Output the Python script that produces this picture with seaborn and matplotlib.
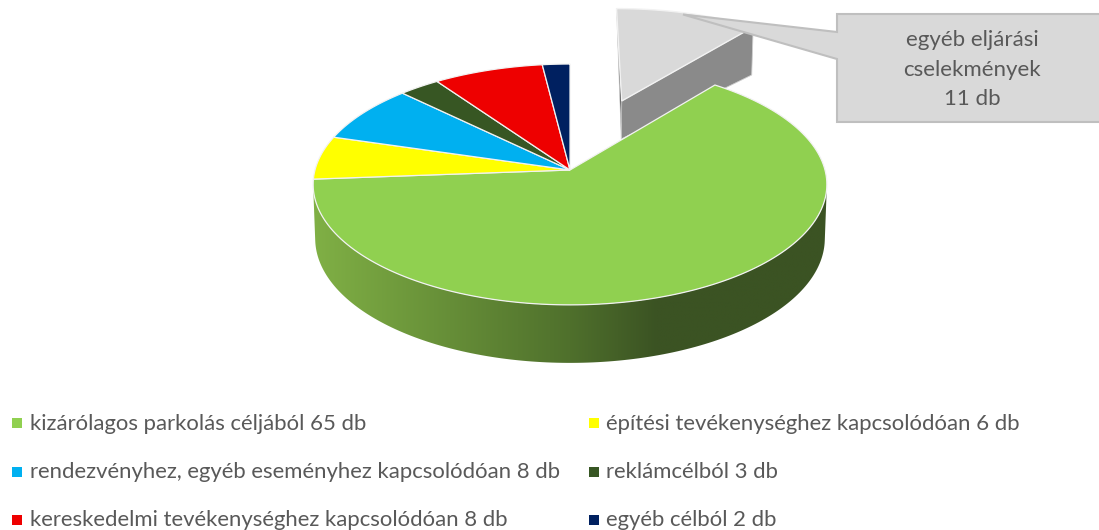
import numpy as np
import matplotlib
matplotlib.use("Agg")
import matplotlib.pyplot as plt
from matplotlib.colors import LinearSegmentedColormap
from matplotlib.patches import Polygon
import seaborn as sns

categories = ["kizárólagos parkolás céljából", "építési tevékenységhez kapcsolódóan",
              "rendezvényhez, egyéb eseményhez kapcsolódóan", "reklámcélból",
              "kereskedelmi tevékenységhez kapcsolódóan", "egyéb célból",
              "egyéb eljárási cselekmények"]
values = [65, 6, 8, 3, 8, 2, 11]
unit = "db"
hex_colors = ["#90d050", "#ffff00", "#00b0f0", "#375623", "#ee0000", "#002060", "#d9d9d9"]

sns.set_theme(style="white")
plt.rcParams["font.family"] = ["Lato", "DejaVu Sans"]
palette = sns.color_palette(hex_colors)
TEXT = "#595959"

W, H = 1099, 530
fig = plt.figure(figsize=(W / 100, H / 100), dpi=100, facecolor="white")
ax = fig.add_axes([0, 0, 1, 1])
ax.set_xlim(0, W)
ax.set_ylim(H, 0)
ax.axis("off")

CX, CY, A, B, K = 570.0, 170.0, 118.7, 255.0, 0.12
EXPLODE = 0.662


def project(u, v, lower=False):
    den = 1 + K * v
    x = CX + B * u / den
    y = CY - A * v / den
    if lower:
        y = y + np.interp(v, [-1, -0.1, 0.625, 1.41], [58, 54, 38, 48])
        x = CX + (x - CX) * 0.992
    return np.column_stack([np.atleast_1d(x), np.atleast_1d(y)])


def arc(t0, t1, off=(0, 0), lower=False, n=160):
    t = np.radians(np.linspace(t0, t1, n))
    return project(off[0] + np.sin(t), off[1] + np.cos(t), lower)


def apex(off=(0, 0), lower=False):
    return project(np.array([off[0]]), np.array([off[1]]), lower)


total = sum(values)
g = 6

# exploded slice: it starts at 12 o'clock, the other slices follow it clockwise
g0, g1 = 0.0, values[g] / total * 360
mid = np.radians((g0 + g1) / 2)
off = (EXPLODE * np.sin(mid), EXPLODE * np.cos(mid))
face = np.vstack([apex(off), arc(g1, g1, off, n=1), arc(g1, g1, off, True, n=1), apex(off, True)])
ax.add_patch(Polygon(face, closed=True, fc="#8a8a8a", ec="#cfcfcf", lw=0.6, zorder=2))
left = np.vstack([arc(g0, g0, off, n=1), apex(off), apex(off, True)])
ax.add_patch(Polygon(left, closed=True, fc="#4d4d4d", ec="#d0d0d0", lw=0.5, zorder=2))
ax.add_patch(Polygon(np.vstack([apex(off), arc(g0, g1, off)]), closed=True,
                     fc=palette[g], ec="#f2f2f2", lw=1.0, zorder=3))

# side wall of the main pie, with its gradient
side_start, side_end = 98, 262
wall = np.vstack([arc(side_start, side_end), arc(side_start, side_end, lower=True)[::-1]])
wall_patch = Polygon(wall, closed=True, fc="none", ec="none", zorder=4)
ax.add_patch(wall_patch)
cmap = LinearSegmentedColormap.from_list(
    "wall", [(0, "#80b045"), (0.5, "#4f702c"), (0.67, "#3b5323"), (1, "#3b5323")])
grad = np.linspace(0, 1, 512)[None, :]
img = ax.imshow(grad, extent=(313, 827, 370, 170), cmap=cmap, vmin=0, vmax=1,
                aspect="auto", zorder=4, interpolation="bilinear")
img.set_clip_path(wall_patch)
ax.set_xlim(0, W)
ax.set_ylim(H, 0)

# top surface
for i, val in enumerate(values[:-1]):
    t0 = g1 + sum(values[:i]) / total * 360
    t1 = t0 + val / total * 360
    poly = np.vstack([apex(), arc(t0, t1)])
    ax.add_patch(Polygon(poly, closed=True, fc=palette[i], ec="#f2f2f2", lw=0.9, zorder=5))

# callout
callout = [(837, 14), (1110, 14), (1110, 122), (837, 122), (837, 59), (683, 14.5), (837, 32)]
ax.add_patch(Polygon(callout, closed=True, fc="#d9d9d9", ec="#bfbfbf", lw=1.5, zorder=6))
for line, y in zip(["egyéb eljárási", "cselekmények", f"{values[g]} {unit}"], [40, 70, 99]):
    ax.text(972, y, line, ha="center", va="center", color=TEXT, fontsize=16, zorder=7)

# legend
rows = [423, 472, 520]
cols = [(17, 30), (594, 606)]
for i in range(6):
    mx, tx = cols[i % 2]
    y = rows[i // 2]
    ax.scatter([mx], [y], marker="s", s=62, color=palette[i], linewidths=0, zorder=7)
    ax.text(tx, y + 0.5, f"{categories[i]} {values[i]} {unit}", ha="left", va="center",
            color=TEXT, fontsize=15.9, zorder=7)

fig.savefig("out.png", dpi=100, facecolor="white")
